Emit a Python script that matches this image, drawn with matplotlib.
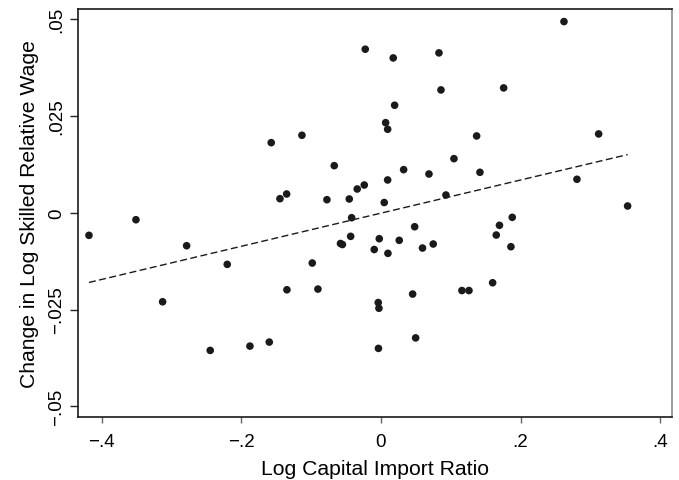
import matplotlib
matplotlib.use("Agg")
import matplotlib.pyplot as plt

# Data
log_capital_import_ratio = [
    -0.4183, -0.3510, -0.2784, -0.3128, -0.2202, -0.2446, -0.1877, -0.1600,
    -0.1347, -0.0903, -0.0984, -0.1572, -0.1132, -0.1447, -0.1351, -0.0669,
    -0.0774, -0.0580, -0.0552, -0.0225, 0.0176, 0.0831, 0.2622, 0.0860,
    0.1758, 0.0196, 0.0067, 0.0096, 0.1371, 0.3119, 0.1046, 0.1418,
    0.0325, 0.0688, 0.2808, 0.0096, -0.0239, -0.0340, -0.0454, 0.0047,
    0.0931, 0.3534, -0.0420, 0.1881, 0.1698, 0.1652, 0.0483, -0.0434,
    -0.0024, 0.0262, 0.0749, 0.1862, -0.0096, 0.0595, 0.0100, 0.1600,
    0.1160, 0.1261, 0.0454, -0.0039, -0.0029, 0.0497, -0.0036,
]
change_log_skilled_wage = [
    -0.00584, -0.00181, -0.00852, -0.02299, -0.01333, -0.03554, -0.03443, -0.03339,
    -0.01989, -0.01971, -0.01299, 0.01808, 0.01999, 0.00362, 0.00483, 0.01214,
    0.00336, -0.00795, -0.00821, 0.04220, 0.03995, 0.04125, 0.04933, 0.03169,
    0.03221, 0.02774, 0.02324, 0.02154, 0.01981, 0.02033, 0.01395, 0.01043,
    0.01111, 0.00999, 0.00863, 0.00845, 0.00715, 0.00612, 0.00354, 0.00263,
    0.00457, 0.00173, -0.00129, -0.00119, -0.00325, -0.00576, -0.00362, -0.00610,
    -0.00671, -0.00713, -0.00808, -0.00878, -0.00950, -0.00912, -0.01049, -0.01808,
    -0.02009, -0.02009, -0.02100, -0.02319, -0.02466, -0.03231, -0.03502,
]

# Fitted line end points
fit_x = [-0.4183, 0.3534]
fit_y = [-0.0180, 0.0150]

x_ticks = [-0.4, -0.2, 0, 0.2, 0.4]
x_tick_labels = ["\u2212.4", "\u2212.2", "0", ".2", ".4"]
y_ticks = [-0.05, -0.025, 0, 0.025, 0.05]
y_tick_labels = ["\u2212.05", "\u2212.025", "0", ".025", ".05"]

plt.rcParams["font.family"] = ["Liberation Sans", "DejaVu Sans"]

fig = plt.figure(figsize=(6.79, 4.81), dpi=100)
ax = fig.add_axes([0.1149, 0.1304, 0.8743, 0.8498])

# Scatter points and fitted line
ax.scatter(log_capital_import_ratio, change_log_skilled_wage, s=30, color="#1a1a1a",
           edgecolors="none", zorder=3)
ax.plot(fit_x, fit_y, color="#1a1a1a", linestyle=(0, (5, 2.5)), linewidth=1.0)

ax.set_xlim(-0.434, 0.4165)
ax.set_ylim(-0.0528, 0.0527)

ax.set_xticks(x_ticks)
ax.set_xticklabels(x_tick_labels)
ax.set_yticks(y_ticks)
ax.set_yticklabels(y_tick_labels, rotation=90, va="center")

ax.tick_params(axis="x", direction="out", length=4, width=1, color="#666666",
               labelsize=13.5, pad=7)
ax.tick_params(axis="y", direction="out", length=6, width=1, color="#222222",
               labelsize=13.5, pad=3)

# Box: dark left/bottom/top, gray right
for side in ["left", "bottom", "top"]:
    ax.spines[side].set_color("#1a1a1a")
    ax.spines[side].set_linewidth(1.2)
ax.spines["right"].set_color("#8a8a8a")
ax.spines["right"].set_linewidth(1.2)

# Labelling
ax.set_xlabel("Log Capital Import Ratio", fontsize=15.2, labelpad=7)
ax.set_ylabel("Change in Log Skilled Relative Wage", fontsize=15.2, labelpad=7)

fig.savefig("out.png", dpi=100)
